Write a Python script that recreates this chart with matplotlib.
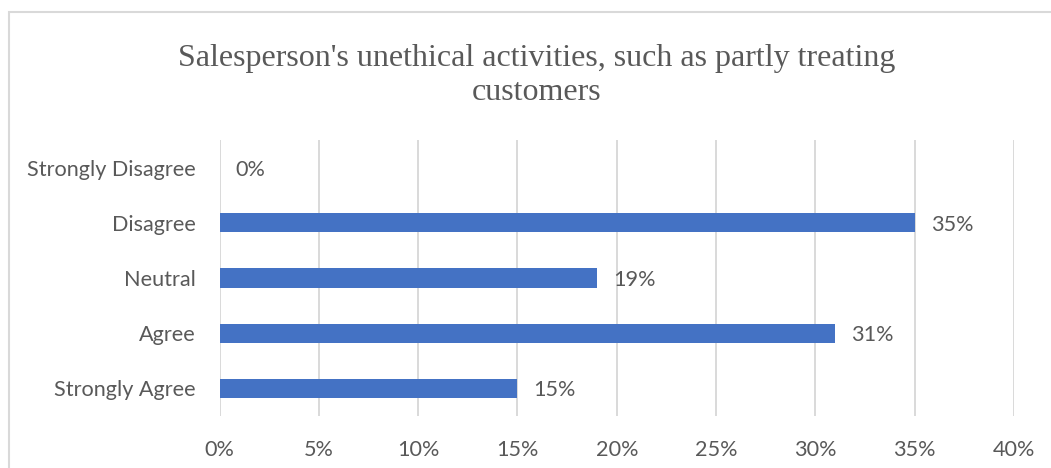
import matplotlib
matplotlib.use("Agg")
import matplotlib.pyplot as plt
from matplotlib.patches import Rectangle
from matplotlib.ticker import FuncFormatter

# survey responses, top to bottom
categories = ["Strongly Disagree", "Disagree", "Neutral", "Agree", "Strongly Agree"]
shares = [0, 35, 19, 31, 15]
x_ticks = [0, 5, 10, 15, 20, 25, 30, 35, 40]

title = "Salesperson's unethical activities, such as partly treating\ncustomers"

BAR_COLOR = "#4472C4"
TEXT_COLOR = "#595959"
GRID_COLOR = "#D9D9D9"
LABEL_FONT = ["Lato", "DejaVu Sans"]
LABEL_SIZE = 15.6

W, H = 1051, 468
fig = plt.figure(figsize=(W / 100, H / 100), dpi=100)

# chart frame (only top and left edges fall inside the canvas)
fig.patches.append(Rectangle((8.5 / W, -0.1), 1.2, 1.1 - 12.5 / H,
                             transform=fig.transFigure, fill=False,
                             edgecolor=GRID_COLOR, linewidth=1.5))

ax = fig.add_axes([219.5 / W, 52 / H, (1014 - 219.5) / W, 276 / H])
y = list(range(len(categories)))
ax.barh(y, shares, height=0.35, color=BAR_COLOR, zorder=3)

ax.set_xlim(0, 40)
ax.set_ylim(len(categories) - 0.5, -0.5)
ax.set_xticks(x_ticks)
ax.xaxis.set_major_formatter(FuncFormatter(lambda v, _: f"{v:.0f}%"))
ax.set_yticks(y)
ax.set_yticklabels(categories)
ax.tick_params(axis="both", length=0, colors=TEXT_COLOR, labelsize=LABEL_SIZE)
ax.tick_params(axis="x", pad=17.5)
ax.tick_params(axis="y", pad=17)
for lbl in ax.get_xticklabels() + ax.get_yticklabels():
    lbl.set_family(LABEL_FONT)

ax.grid(axis="x", color=GRID_COLOR, linewidth=1.4, zorder=0)
for s in ax.spines.values():
    s.set_visible(False)

for yi, v in zip(y, shares):
    ax.annotate(f"{v}%", xy=(v, yi), xytext=(11.5, -1.5), textcoords="offset points",
                va="center", ha="left", fontsize=LABEL_SIZE, color=TEXT_COLOR,
                family=LABEL_FONT)

fig.text(537 / W, 1 - 75.5 / H, title, ha="center", va="center",
         fontsize=23, color=TEXT_COLOR, family=["Liberation Serif", "DejaVu Serif"],
         linespacing=1.27)

fig.savefig("out.png", dpi=100)
